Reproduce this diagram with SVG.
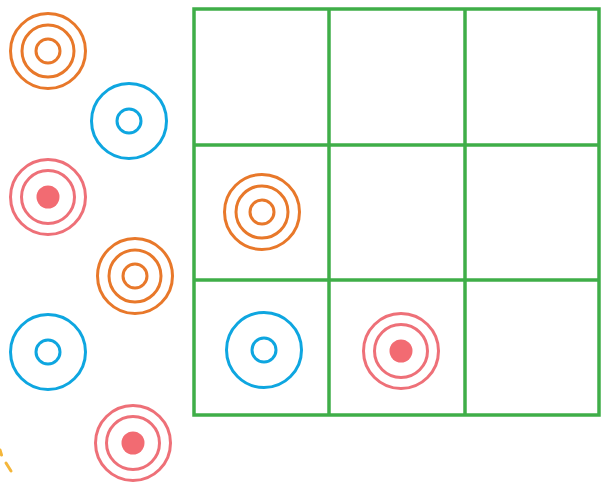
<svg xmlns="http://www.w3.org/2000/svg" width="601" height="483" viewBox="0 0 601 483">
<style>
.g{fill:none;stroke:#3FAE48;stroke-width:3.5}
.o{fill:none;stroke:#E8782A;stroke-width:3}
.b{fill:none;stroke:#0EA6E0;stroke-width:3}
.p{fill:none;stroke:#EE7078;stroke-width:3}
.pd{fill:#F26B72}
.y{stroke:#F4B63A;stroke-width:3;stroke-linecap:round}
</style>
<defs>
<g id="orange"><circle class="o" r="37.5"/><circle class="o" r="26"/><circle class="o" r="12"/></g>
<g id="blue"><circle class="b" r="37.5"/><circle class="b" r="12"/></g>
<g id="pink"><circle class="p" r="37.5"/><circle class="p" r="26.5"/><circle class="pd" r="11.5"/></g>
</defs>
<rect width="601" height="483" fill="#fff"/>
<g id="grid">
<rect class="g" x="194" y="9" width="405" height="406"/>
<line class="g" x1="329" y1="9" x2="329" y2="415"/>
<line class="g" x1="465" y1="9" x2="465" y2="415"/>
<line class="g" x1="194" y1="145" x2="599" y2="145"/>
<line class="g" x1="194" y1="280" x2="599" y2="280"/>
</g>
<g id="orange1"><use href="#orange" x="48" y="51"/></g>
<g id="blue1"><use href="#blue" x="129" y="121"/></g>
<g id="pink1"><use href="#pink" x="48" y="197"/></g>
<g id="orange2"><use href="#orange" x="135" y="276"/></g>
<g id="blue2"><use href="#blue" x="48" y="352"/></g>
<g id="pink2"><use href="#pink" x="133" y="443"/></g>
<g id="orange3"><use href="#orange" x="262" y="212"/></g>
<g id="blue3"><use href="#blue" x="264" y="350"/></g>
<g id="pink3"><use href="#pink" x="401" y="351"/></g>
<g id="yellow">
<line class="y" x1="0" y1="450" x2="1.5" y2="455"/>
<line class="y" x1="6" y1="463" x2="11" y2="471"/>
</g>
</svg>
